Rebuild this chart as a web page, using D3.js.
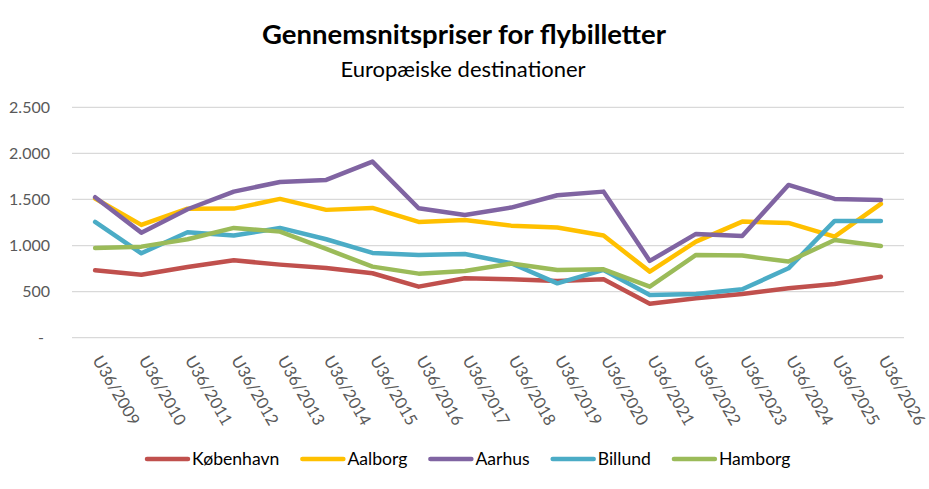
<!DOCTYPE html>
<html>
<head>
<meta charset="utf-8">
<script src="https://cdn.jsdelivr.net/npm/d3@7"></script>
<style>
  body { margin: 0; background: #fff; }
  text { font-family: Lato, "Open Sans", sans-serif; }
</style>
</head>
<body>
<div id="chart"></div>
<script>
var years = ['U36/2009', 'U36/2010', 'U36/2011', 'U36/2012', 'U36/2013', 'U36/2014',
    'U36/2015', 'U36/2016', 'U36/2017', 'U36/2018', 'U36/2019', 'U36/2020',
    'U36/2021', 'U36/2022', 'U36/2023', 'U36/2024', 'U36/2025', 'U36/2026'];
var kobenhavn = [731, 684, 768, 840, 793, 757, 699, 554, 645, 634, 616, 634, 369, 427, 474, 536, 583, 662];
var aalborg = [1510, 1224, 1400, 1401, 1506, 1387, 1408, 1256, 1278, 1216, 1195, 1108, 717, 1043, 1260, 1245, 1097, 1452];
var aarhus = [1524, 1140, 1394, 1585, 1690, 1712, 1911, 1405, 1332, 1412, 1546, 1585, 833, 1126, 1104, 1658, 1506, 1495];
var billund = [1256, 916, 1144, 1108, 1191, 1068, 920, 898, 909, 808, 590, 735, 464, 474, 525, 753, 1267, 1267];
var hamborg = [974, 988, 1068, 1191, 1151, 963, 771, 695, 724, 804, 735, 742, 554, 898, 891, 826, 1061, 996];
var series_names = ['København', 'Aalborg', 'Aarhus', 'Billund', 'Hamborg'];
var y_ticks = [0, 500, 1000, 1500, 2000, 2500];

var series = [kobenhavn, aalborg, aarhus, billund, hamborg];
var colors = ['#C0504D', '#FFC000', '#8064A2', '#4BACC6', '#9BBB59'];

var width = 929, height = 489;
var plot_left = 72, plot_right = 904, plot_top = 107.3, plot_bottom = 337.7;

var svg = d3.select('#chart').append('svg')
    .attr('width', width)
    .attr('height', height);

// title
svg.append('text')
    .attr('x', 464).attr('y', 44)
    .attr('text-anchor', 'middle')
    .style('font-size', '27.5px').style('font-weight', 'bold')
    .text('Gennemsnitspriser for flybilletter');
svg.append('text')
    .attr('x', 463).attr('y', 77)
    .attr('text-anchor', 'middle')
    .style('font-size', '22px')
    .text('Europæiske destinationer');

var x = d3.scaleBand().domain(years).range([plot_left, plot_right]);
var y = d3.scaleLinear().domain([0, 2500]).range([plot_bottom, plot_top]);

// grid
svg.append('g').selectAll('line')
    .data(y_ticks).enter().append('line')
        .attr('x1', plot_left).attr('x2', plot_right)
        .attr('y1', function(d) { return y(d); })
        .attr('y2', function(d) { return y(d); })
        .attr('stroke', '#D9D9D9')
        .attr('stroke-width', 1.2);

// y labels, danish format, zero shown as dash
var fmt = d3.formatLocale({ decimal: ',', thousands: '.', grouping: [3], currency: ['', ''] }).format(',');
svg.append('g').selectAll('text')
    .data(y_ticks).enter().append('text')
        .attr('x', function(d) { return d === 0 ? 41 : 50; })
        .attr('y', function(d) { return y(d) + 5.5; })
        .attr('text-anchor', function(d) { return d === 0 ? 'middle' : 'end'; })
        .attr('fill', '#595959')
        .style('font-size', '16px')
        .text(function(d) { return d === 0 ? '-' : fmt(d); });

// x labels, rotated
svg.append('g').selectAll('text')
    .data(years).enter().append('text')
        .attr('transform', function(d) {
            var cx = x(d) + x.bandwidth() / 2;
            return 'translate(' + (cx - 3) + ',360) rotate(60)';
        })
        .attr('fill', '#595959')
        .style('font-size', '16.5px')
        .text(function(d) { return d; });

// lines
var line = d3.line()
    .x(function(d, i) { return x(years[i]) + x.bandwidth() / 2; })
    .y(function(d) { return y(d); });

svg.append('g').selectAll('path')
    .data(series).enter().append('path')
        .attr('d', line)
        .attr('fill', 'none')
        .attr('stroke', function(d, i) { return colors[i]; })
        .attr('stroke-width', 4.5)
        .attr('stroke-linejoin', 'round')
        .attr('stroke-linecap', 'round');

// legend
var legend = svg.append('g');
var lx = 147, ly = 459;
series_names.forEach(function(name, i) {
    legend.append('line')
        .attr('x1', lx).attr('x2', lx + 41)
        .attr('y1', ly).attr('y2', ly)
        .attr('stroke', colors[i])
        .attr('stroke-width', 4.5)
        .attr('stroke-linecap', 'round');
    var t = legend.append('text')
        .attr('x', lx + 45).attr('y', ly + 6)
        .attr('fill', '#000')
        .style('font-size', '17.6px')
        .text(name);
    lx += 45 + t.node().getComputedTextLength() + 23;
});
</script>
</body>
</html>
